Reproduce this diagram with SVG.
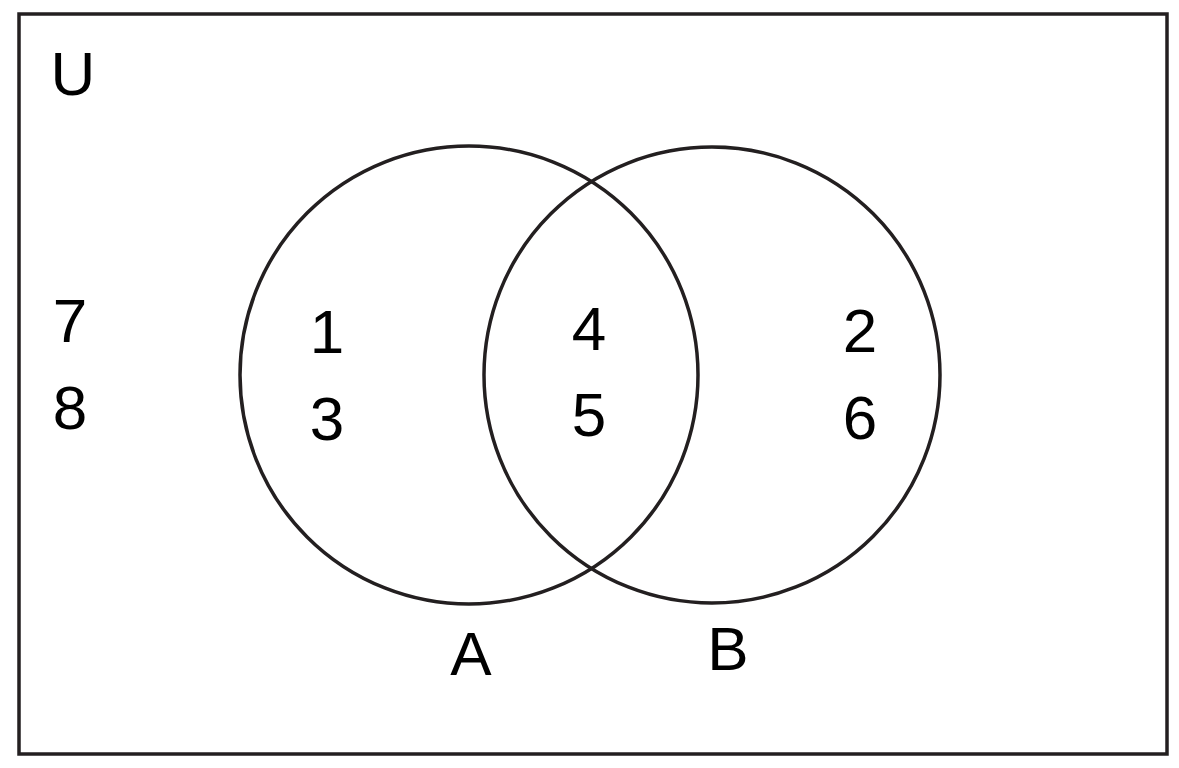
<svg xmlns="http://www.w3.org/2000/svg" width="1179" height="768" viewBox="0 0 1179 768">
<style>
.l{fill:none;stroke:#231f20;stroke-width:3.5}
text{font-family:"Liberation Sans",Arial,sans-serif;font-size:62px;fill:#000;text-anchor:middle}
</style>
<rect width="1179" height="768" fill="#fff"/>
<rect id="universe" class="l" x="19" y="14" width="1148" height="740" stroke-width="4"/>
<g id="setA"><circle class="l" cx="469" cy="375" r="229"/><text x="471" y="675">A</text></g>
<g id="setB"><circle class="l" cx="712" cy="375" r="228"/><text x="728" y="670">B</text></g>
<g id="labels">
<text x="73" y="95">U</text>
<text x="70" y="342">7</text>
<text x="70" y="429">8</text>
<text x="327" y="353">1</text>
<text x="327" y="440">3</text>
<text x="589" y="350">4</text>
<text x="589" y="436">5</text>
<text x="860" y="352">2</text>
<text x="860" y="439">6</text>
</g>
</svg>
